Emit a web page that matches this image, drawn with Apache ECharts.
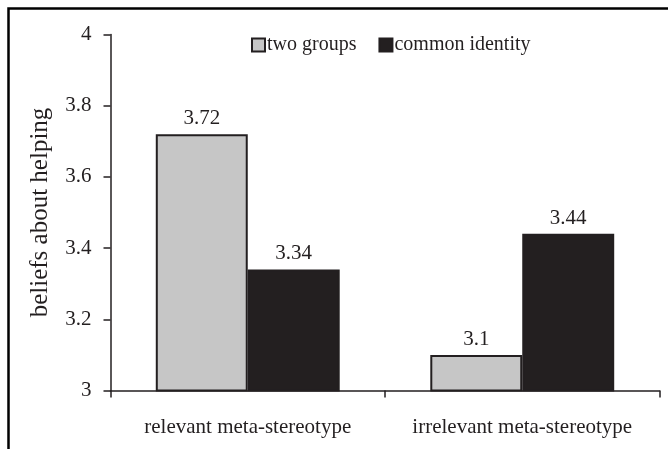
<!DOCTYPE html>
<html><head><meta charset="utf-8">
<script src="https://cdn.jsdelivr.net/npm/echarts@6/dist/echarts.min.js"></script>
<style>html,body{margin:0;padding:0;background:#fff}#c{width:668px;height:449px}</style>
</head><body><div id="c"></div>
<script>
const categories = ['relevant meta-stereotype', 'irrelevant meta-stereotype'];
const seriesNames = ['two groups', 'common identity'];
const twoGroups = [3.72, 3.1];
const commonIdentity = [3.34, 3.44];
const yTicks = [3, 3.2, 3.4, 3.6, 3.8, 4];

const chart = echarts.init(document.getElementById('c'));
const font = '"Liberation Serif", "Times New Roman", serif';
const txt = '#231f20';
chart.setOption({
  animation: false,
  textStyle: {fontFamily: font},
  graphic: [{
    type: 'polyline', silent: true,
    shape: {points: [[8.5, 449], [8.5, 8.5], [668, 8.5]]},
    style: {stroke: '#000', lineWidth: 2.5, fill: null}
  }],
  legend: {
    top: 30, left: 246,
    itemWidth: 13, itemHeight: 13, itemGap: 22,
    textStyle: {fontFamily: font, fontSize: 20, color: txt, padding: [0, 0, 0, -3]},
    data: [
      {name: seriesNames[0], icon: 'rect', itemStyle: {color: '#c6c6c6', borderColor: '#231f20', borderWidth: 2}},
      {name: seriesNames[1], icon: 'rect', itemStyle: {color: '#231f20'}}
    ]
  },
  grid: {left: 110.5, right: 8.5, top: 34.5, bottom: 58.5},
  xAxis: {
    type: 'category', data: categories,
    axisLine: {lineStyle: {color: '#231f20', width: 1.5}},
    axisTick: {show: true, length: 7, lineStyle: {color: '#231f20', width: 1.5}},
    axisLabel: {interval: 0, hideOverlap: false, fontFamily: font, fontSize: 21, color: txt, margin: 26,
      formatter: v => v.replace('-', '\u2011')}
  },
  yAxis: {
    type: 'value', min: 3, max: 4, interval: 0.2,
    name: 'beliefs about helping', nameLocation: 'middle', nameGap: 58,
    nameTextStyle: {fontFamily: font, fontSize: 25, color: txt},
    axisLine: {show: true, lineStyle: {color: '#231f20', width: 1.5}},
    axisTick: {show: true, length: 7, lineStyle: {color: '#231f20', width: 1.5}},
    splitLine: {show: false},
    axisLabel: {fontFamily: font, fontSize: 21, color: txt, margin: 19,
      formatter: v => {const t = yTicks.find(x => Math.abs(x - v) < 1e-9); return t === undefined ? '' : String(t);}}
  },
  series: [
    {name: seriesNames[0], type: 'bar', data: twoGroups, barGap: '0%', barCategoryGap: '33%',
      itemStyle: {color: '#c6c6c6', borderColor: '#231f20', borderWidth: 2},
      label: {show: true, position: 'top', distance: 5, fontFamily: font, fontSize: 21, color: txt}},
    {name: seriesNames[1], type: 'bar', data: commonIdentity,
      itemStyle: {color: '#231f20', borderColor: '#231f20', borderWidth: 2},
      label: {show: true, position: 'top', distance: 5, fontFamily: font, fontSize: 21, color: txt}}
  ]
});
</script></body></html>
